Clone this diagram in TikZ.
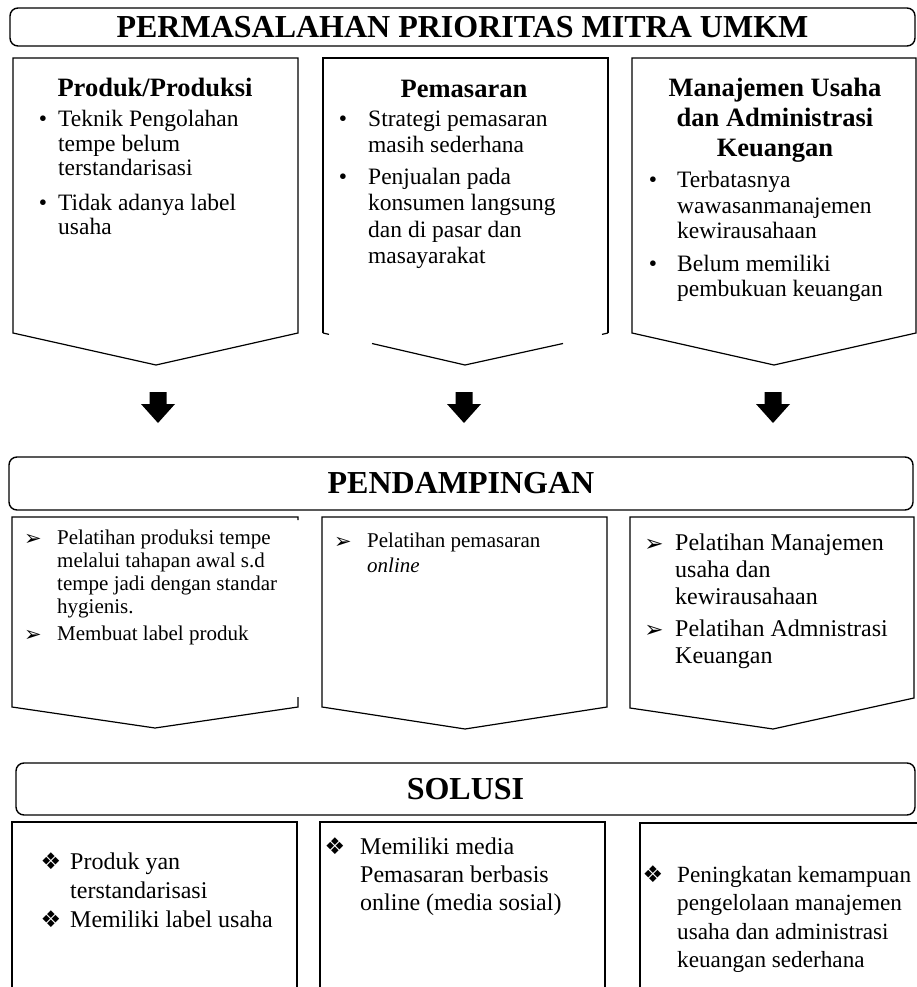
\documentclass[tikz,border=0pt]{standalone}
\usepackage{fontspec}
\setmainfont{Liberation Serif}
\newfontfamily\symfont{DejaVu Sans}
\newcommand{\mylines}[1]{\parbox[t]{400pt}{\raggedright #1}}
\newcommand{\mycentre}[1]{\parbox[t]{300pt}{\centering #1}}
\begin{document}
\begin{tikzpicture}[x=1pt,y=-1pt,
  hdr/.style={draw, line width=1.4pt, rounded corners=8pt, inner sep=0pt,
    font=\bfseries\fontsize{32}{36}\selectfont},
  outline/.style={line width=1.2pt, line join=miter},
  hb/.style n args={1}{anchor=base, inner sep=0pt, font=\bfseries\fontsize{26.5}{#1}\selectfont},
  txt/.style n args={2}{anchor=base west, inner sep=0pt, font=\fontsize{#1}{#2}\selectfont},
  dotb/.style={anchor=base, inner sep=0pt, font=\fontsize{23.5}{26}\selectfont},
  arrb/.style={anchor=base, inner sep=0pt, font=\symfont\fontsize{21}{22}\selectfont},
  diab/.style={anchor=base, inner sep=0pt, font=\symfont\fontsize{23}{24}\selectfont},
  blockarrow/.style={fill=black}
]
\useasboundingbox (0,0) rectangle (917,987);
\fill[white] (0,0) rectangle (917,987);

% ---------- header boxes ----------
\node[hdr, minimum width=905pt, minimum height=38pt] (title) at (462.5,27) {PERMASALAHAN PRIORITAS MITRA UMKM};
\node[hdr, minimum width=904pt, minimum height=53pt] (pend) at (461,483.5) {PENDAMPINGAN};
\node[hdr, minimum width=899pt, minimum height=52pt] (sol) at (465.5,789) {SOLUSI};

% ---------- top row shapes ----------
\draw[outline] (13,58) -- (298,58) -- (298,333) -- (156,365) -- (13,333) -- cycle;
\draw[outline] (323,333) -- (323,58) -- (608,58) -- (608,333);
\draw[outline] (323,333) -- (329,334.4);
\draw[outline] (608,333) -- (602,334.4);
\draw[outline] (372,343.5) -- (465,365) -- (563,343.5);
\draw[outline] (632,58) -- (916,58) -- (916,333) -- (774,365) -- (632,333) -- cycle;

% ---------- block arrows ----------
\foreach \cx in {158,464,773} {
  \fill[blockarrow] (\cx-8.5,392) -- (\cx+8.5,392) -- (\cx+8.5,404) -- (\cx+17,404)
    -- (\cx,423) -- (\cx-17,404) -- (\cx-8.5,404) -- cycle;
}

% ---------- middle row shapes ----------
\draw[outline] (298,520) -- (298,517) -- (12,517) -- (12,707) -- (155,728) -- (298,707) -- (298,697);
\draw[outline] (322,517) -- (607,517) -- (607,707) -- (465,729) -- (322,707) -- cycle;
\draw[outline] (630,517) -- (914,517) -- (914,698) -- (773,729) -- (630,708) -- cycle;

% ---------- bottom row shapes ----------
\draw[outline] (12,995) -- (12,822) -- (297,822) -- (297,995);
\draw[outline] (320,995) -- (320,822) -- (605,822) -- (605,995);
\draw[outline] (640,995) -- (640,823) -- (925,823);

% ---------- top row text ----------
\node[hb={30}] (h1) at (155,97) {Produk/Produksi};
\node[dotb] (d1a) at (43,127) {•};
\node[txt={23.5}{24.5}] (b1a) at (58,127) {\mylines{Teknik Pengolahan\\tempe belum\\terstandarisasi}};
\node[dotb] (d1b) at (43,210) {•};
\node[txt={23.5}{24.5}] (b1b) at (58,210) {\mylines{Tidak adanya label\\usaha}};

\node[hb={30}] (h2) at (464,98) {Pemasaran};
\node[dotb] (d2a) at (343,127) {•};
\node[txt={23.5}{26}] (b2a) at (368,127) {\mylines{Strategi pemasaran\\masih sederhana}};
\node[dotb] (d2b) at (343,185) {•};
\node[txt={23.5}{26}] (b2b) at (368,185) {\mylines{Penjualan pada\\konsumen langsung\\dan di pasar dan\\masayarakat}};

\node[hb={30}] (h3) at (775,97) {\mycentre{Manajemen Usaha\\dan Administrasi\\Keuangan}};
\node[dotb] (d3a) at (653,188) {•};
\node[txt={23.5}{25.5}] (b3a) at (677,188) {\mylines{Terbatasnya\\wawasanmanajemen\\kewirausahaan}};
\node[dotb] (d3b) at (653,271) {•};
\node[txt={23.5}{25.5}] (b3b) at (677,271) {\mylines{Belum memiliki\\pembukuan keuangan}};

% ---------- middle row text ----------
\node[arrb] (a1a) at (33,545) {➢};
\node[txt={21}{23}] (m1a) at (57,544) {\mylines{Pelatihan produksi tempe\\melalui tahapan awal s.d\\tempe jadi dengan standar\\hygienis.}};
\node[arrb] (a1b) at (33,641) {➢};
\node[txt={21}{23}] (m1b) at (57,640) {\mylines{Membuat label produk}};

\node[arrb] (a2a) at (343,548) {➢};
\node[txt={21}{25}] (m2a) at (367,547) {\mylines{Pelatihan pemasaran\\\textit{online}}};

\node[arrb, font=\symfont\fontsize{23}{24}\selectfont] (a3a) at (654,551) {➢};
\node[txt={24}{27}] (m3a) at (675,550) {\mylines{Pelatihan Manajemen\\usaha dan\\kewirausahaan}};
\node[arrb, font=\symfont\fontsize{23}{24}\selectfont] (a3b) at (654,637) {➢};
\node[txt={24}{27}] (m3b) at (675,636) {\mylines{Pelatihan Admnistrasi\\Keuangan}};

% ---------- bottom row text ----------
\node[diab] (s1d1) at (51,869) {❖};
\node[txt={24}{29}] (s1a) at (70,869) {\mylines{Produk yan\\terstandarisasi}};
\node[diab] (s1d2) at (51,927) {❖};
\node[txt={24}{29}] (s1b) at (70,927) {\mylines{Memiliki label usaha}};

\node[diab] (s2d1) at (335,854) {❖};
\node[txt={24}{28}] (s2a) at (360,854) {\mylines{Memiliki media\\Pemasaran berbasis\\online (media sosial)}};

\node[diab] (s3d1) at (653,882) {❖};
\node[txt={23.2}{28.5}] (s3a) at (677,882) {\mylines{Peningkatan kemampuan\\pengelolaan manajemen\\usaha dan administrasi\\keuangan sederhana}};
\end{tikzpicture}
\end{document}
